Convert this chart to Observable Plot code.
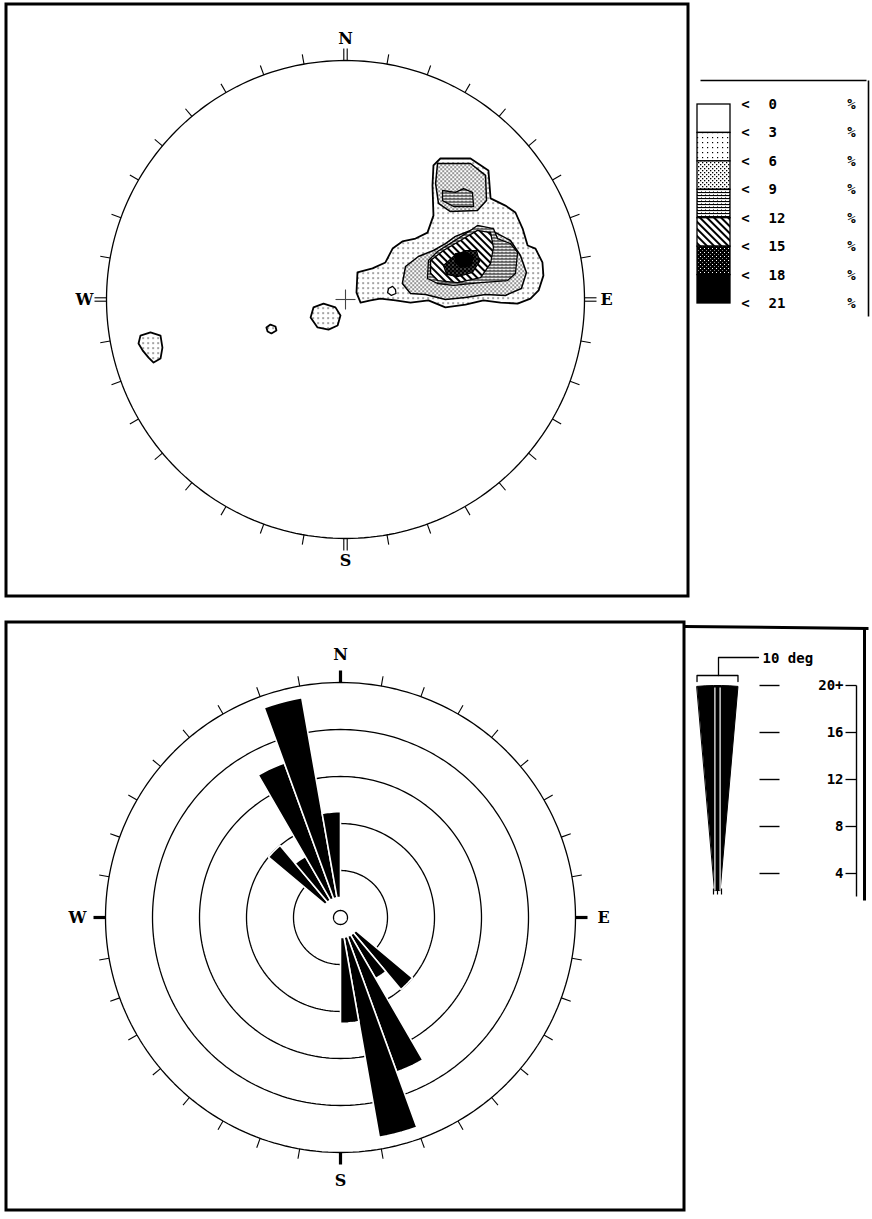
<!DOCTYPE html>
<html><head><meta charset="utf-8">
<script src="https://cdn.jsdelivr.net/npm/d3@7"></script>
<script src="https://cdn.jsdelivr.net/npm/@observablehq/plot@0.6"></script>
<style>html,body{margin:0;padding:0;background:#fff;} svg{display:block}</style>
</head><body><div id="chart"></div>
<script>
// ================= DATA =================
// Contour legend levels (%)
const contourLevels = [0, 3, 6, 9, 12, 15, 18, 21];
// Contour outlines, net coordinates (primitive circle radius = 100, x = east, y = north)
const contour3Main = [[5.0,11.3],[11.3,13.0],[16.7,15.5],[19.7,21.3],[23.8,24.3],[29.3,25.5],[34.3,28.0],[36.8,35.1],[36.4,47.7],[36.8,56.1],[39.7,59.0],[52.3,59.0],[59.8,54.0],[60.7,42.3],[66.9,39.3],[71.1,36.4],[74.1,29.7],[76.2,22.6],[79.5,21.3],[82.4,15.5],[82.8,10.0],[80.8,3.8],[77.4,0.4],[72.0,-1.7],[64.9,-1.3],[57.7,-0.4],[50.2,-2.1],[41.8,-3.3],[34.7,-0.4],[27.2,-1.3],[20.9,-0.4],[14.6,0.4],[10.5,-0.4],[6.3,-1.3],[4.6,2.9]];
const contour3West = [[-85.8,-15.1],[-81.6,-13.8],[-77.4,-15.1],[-76.6,-20.1],[-77.4,-24.7],[-80.3,-26.4],[-82.4,-24.3],[-84.9,-21.3],[-86.6,-18.4]];
const contour3Centre = [[-13.4,-3.3],[-9.2,-1.7],[-4.2,-3.3],[-2.1,-6.7],[-3.3,-10.9],[-7.1,-12.6],[-11.7,-11.7],[-14.6,-7.5]];
const contour3Small = [[-33.1,-11.7],[-31.4,-10.5],[-29.3,-11.3],[-28.9,-13.0],[-31.0,-14.2],[-32.6,-13.4]];
const contour0Hole = [[20.9,4.2],[19.7,5.5],[18.0,4.6],[17.6,2.9],[19.2,1.7],[21.1,2.5]];
const contour6Main = [[23.8,6.7],[25.1,13.8],[30.5,18.0],[36.8,20.5],[41.8,23.4],[46.0,26.4],[52.3,28.9],[56.5,30.5],[62.8,28.0],[69.0,24.7],[73.2,18.4],[75.7,11.3],[73.6,4.6],[66.9,1.7],[58.6,2.1],[50.2,0.8],[41.8,0.0],[33.5,2.1],[27.2,2.5]];
const contour6Lobe = [[38.5,56.9],[52.3,56.9],[58.6,51.9],[59.0,41.4],[55.2,37.2],[43.9,36.8],[38.9,40.2],[37.7,48.5]];
const contour9Main = [[52.3,28.9],[55.2,31.0],[61.9,29.7],[63.6,25.5],[69.0,23.4],[72.0,19.7],[71.1,10.9],[67.8,7.9],[56.5,7.1],[45.2,5.9],[38.5,6.7],[34.3,8.8],[34.7,16.3],[38.5,20.1],[45.2,24.3]];
const contour9Lobe = [[40.6,45.6],[46.0,44.8],[49.4,46.4],[53.1,44.8],[53.6,38.9],[45.2,38.9],[40.6,41.4]];
const contour12 = [[35.6,16.3],[41.0,20.5],[48.1,24.7],[55.2,28.9],[60.7,28.0],[61.9,21.8],[60.7,15.1],[56.5,9.2],[46.9,7.1],[38.5,7.9],[35.6,10.9]];
const contour15 = [[41.0,14.2],[45.2,18.0],[50.2,20.5],[54.8,20.5],[56.1,15.9],[53.1,11.3],[46.9,9.6],[42.3,10.5]];
const contour18 = [[46.0,19.2],[51.0,19.7],[53.6,17.6],[52.3,14.2],[48.1,13.4],[46.0,15.5]];

// Rose diagram: 10-degree bins (start azimuth) and counts, axial data (mirrored at +180)
const roseBins = [310, 320, 330, 340, 350];
const roseCounts = [8, 6, 14, 19, 9];
const ringCounts = [4, 8, 12, 16, 20];
const roseScaleLabels = ["4", "8", "12", "16", "20+"];
const compass = [{t: "N", az: 0}, {t: "E", az: 90}, {t: "S", az: 180}, {t: "W", az: 270}];

// ================= LAYOUT =================
const W = 872, H = 1219;
const NET = {cx: 345, cy: 299, R: 239};
const ROSE = {cx: 340, cy: 917, R: 235, max: 20};
const LEG = {cx: 717, cy: 920};           // apex of the rose legend wedge
const k = ROSE.R / ROSE.max;
const rad = d => d * Math.PI / 180;
const polar = (c, az, r) => ({x: c.cx + r * Math.sin(rad(az)), y: c.cy - r * Math.cos(rad(az))});
const netPt = ([u, v]) => ({x: NET.cx + u / 100 * NET.R, y: NET.cy - v / 100 * NET.R});
const polyRows = polys => polys.flatMap((p, i) => p.map(q => ({...netPt(q), id: i})));
const circleRows = (c, r, id) => d3.range(0, 360, 1.5).map(a => ({...polar(c, a, r), id}));

const marks = [];
const serif = {fontFamily: "DejaVu Serif", fontWeight: "bold", fontSize: 16, lineAnchor: "middle", textAnchor: "middle", fill: "black"};
const mono = {fontFamily: "DejaVu Sans Mono", fontWeight: "bold", fontSize: 14, lineAnchor: "middle", fill: "black"};

// Frames
marks.push(Plot.rect([{x1: 6, x2: 688, y1: 4, y2: 596}, {x1: 6, x2: 684, y1: 622, y2: 1210}],
  {x1: "x1", x2: "x2", y1: "y1", y2: "y2", fill: "none", stroke: "black", strokeWidth: 3}));
marks.push(Plot.link([{x1: 700, y1: 80, x2: 866, y2: 80}, {x1: 868, y1: 80, x2: 868, y2: 316}],
  {x1: "x1", y1: "y1", x2: "x2", y2: "y2", stroke: "black", strokeWidth: 1.6}));
marks.push(Plot.link([{x1: 684, y1: 626, x2: 868, y2: 628}, {x1: 864, y1: 627, x2: 864, y2: 900}],
  {x1: "x1", y1: "y1", x2: "x2", y2: "y2", stroke: "black", strokeWidth: 3}));

// ---------- Stereonet ----------
marks.push(Plot.line(circleRows(NET, NET.R, 0), {x: "x", y: "y", curve: "linear-closed", stroke: "black", strokeWidth: 1.3}));
const netTicks = [];
for (let a = 0; a < 360; a += 10) {
  if (a % 90 === 0) {
    [-1.7, 1.7].forEach(o => {
      const p1 = polar(NET, a, NET.R), p2 = polar(NET, a, NET.R + 12);
      const ox = o * Math.cos(rad(a)), oy = o * Math.sin(rad(a));
      netTicks.push({x1: p1.x + ox, y1: p1.y + oy, x2: p2.x + ox, y2: p2.y + oy});
    });
  } else {
    const p1 = polar(NET, a, NET.R), p2 = polar(NET, a, NET.R + 10);
    netTicks.push({x1: p1.x, y1: p1.y, x2: p2.x, y2: p2.y});
  }
}
marks.push(Plot.link(netTicks, {x1: "x1", y1: "y1", x2: "x2", y2: "y2", stroke: "black", strokeWidth: 1.1}));

const contourLayers = [
  {fill: "url(#p3)", polys: [contour3Main, contour3West, contour3Centre, contour3Small], sw: 1.8},
  {fill: "url(#p6)", polys: [contour6Main, contour6Lobe], sw: 1.5},
  {fill: "url(#p9)", polys: [contour9Main, contour9Lobe], sw: 1.3},
  {fill: "url(#p12)", polys: [contour12], sw: 1.3},
  {fill: "url(#p15)", polys: [contour15], sw: 1.2},
  {fill: "black", polys: [contour18], sw: 1.2},
  {fill: "white", polys: [contour0Hole], sw: 1.3}
];
contourLayers.forEach(L => marks.push(Plot.line(polyRows(L.polys),
  {x: "x", y: "y", z: "id", curve: "linear-closed", fill: L.fill, stroke: "black", strokeWidth: L.sw})));

// centre cross
marks.push(Plot.link([{x1: NET.cx - 10, y1: NET.cy, x2: NET.cx + 10, y2: NET.cy}, {x1: NET.cx, y1: NET.cy - 10, x2: NET.cx, y2: NET.cy + 10}],
  {x1: "x1", y1: "y1", x2: "x2", y2: "y2", stroke: "#444", strokeWidth: 1.1}));
marks.push(Plot.text(compass, {x: d => polar(NET, d.az, NET.R + 22).x, y: d => polar(NET, d.az, NET.R + 22).y, text: "t", ...serif}));

// contour legend
const bandH = (303 - 104) / 7;
const bandFills = ["white", "url(#p3)", "url(#p6)", "url(#p9)", "url(#p12)", "url(#p15)", "black"];
marks.push(Plot.rect(bandFills.map((f, i) => ({f, y1: 104 + i * bandH, y2: 104 + (i + 1) * bandH})),
  {x1: 697, x2: 730, y1: "y1", y2: "y2", fill: "f", stroke: "black", strokeWidth: 1.3}));
const legRows = contourLevels.map((v, i) => ({v, y: 104 + i * bandH}));
marks.push(Plot.text(legRows, {x: 745, y: "y", text: () => "<", textAnchor: "middle", ...mono}));
marks.push(Plot.text(legRows, {x: 768, y: "y", text: d => String(d.v), textAnchor: "start", ...mono}));
marks.push(Plot.text(legRows, {x: 851, y: "y", text: () => "%", textAnchor: "middle", ...mono, fontSize: 14}));

// ---------- Rose ----------
ringCounts.forEach((c, i) => marks.push(Plot.line(circleRows(ROSE, c * k, i), {x: "x", y: "y", curve: "linear-closed", stroke: "black", strokeWidth: 1.3})));
const wedgeRows = [];
roseBins.forEach((b, i) => {
  [0, 180].forEach(off => {
    const a0 = b + off, r1 = roseCounts[i] * k, r0 = 20, id = b + "-" + off;
    for (let t = 0; t <= 5; t++) wedgeRows.push({...polar(ROSE, a0 + t * 2, r1), id});
    for (let t = 5; t >= 0; t--) wedgeRows.push({...polar(ROSE, a0 + t * 2, r0), id});
  });
});
marks.push(Plot.line(wedgeRows, {x: "x", y: "y", z: "id", curve: "linear-closed", fill: "black", stroke: "white", strokeWidth: 1.6}));
marks.push(Plot.line(circleRows(ROSE, 7, 99), {x: "x", y: "y", curve: "linear-closed", fill: "white", stroke: "black", strokeWidth: 1.3}));
const roseTicks = [];
for (let a = 0; a < 360; a += 10) {
  const card = a % 90 === 0;
  const p1 = polar(ROSE, a, ROSE.R), p2 = polar(ROSE, a, ROSE.R + (card ? 12 : 10));
  roseTicks.push({x1: p1.x, y1: p1.y, x2: p2.x, y2: p2.y, w: card ? 3.2 : 1.1});
}
marks.push(Plot.link(roseTicks.filter(d => d.w < 2), {x1: "x1", y1: "y1", x2: "x2", y2: "y2", stroke: "black", strokeWidth: 1.1}));
marks.push(Plot.link(roseTicks.filter(d => d.w > 2), {x1: "x1", y1: "y1", x2: "x2", y2: "y2", stroke: "black", strokeWidth: 3.2}));
marks.push(Plot.text(compass, {x: d => polar(ROSE, d.az, ROSE.R + 28).x, y: d => polar(ROSE, d.az, ROSE.R + 28).y, text: "t", ...serif}));

// rose legend: one 10-degree bin at full scale
const legWedge = [];
for (let t = 0; t <= 5; t++) legWedge.push(polar(LEG, -5 + t * 2, ROSE.max * k));
for (let t = 5; t >= 0; t--) legWedge.push(polar(LEG, -5 + t * 2, 30));
marks.push(Plot.line(legWedge, {x: "x", y: "y", curve: "linear-closed", fill: "black", stroke: "black", strokeWidth: 1}));
const topY = polar(LEG, 0, ROSE.max * k).y;
marks.push(Plot.link([-2.6, 2.6].map(o => ({x: LEG.cx + o, y1: topY + 2, y2: LEG.cy - 30})),
  {x1: "x", x2: "x", y1: "y1", y2: "y2", stroke: "white", strokeWidth: 1.2}));
marks.push(Plot.link([-4, 0, 4].map(o => ({x: LEG.cx + o, y1: LEG.cy - 32, y2: LEG.cy - 26})),
  {x1: "x", x2: "x", y1: "y1", y2: "y2", stroke: "black", strokeWidth: 1.2}));
// bracket "10 deg"
const bx0 = polar(LEG, -5, ROSE.max * k).x, bx1 = polar(LEG, 5, ROSE.max * k).x, by = topY - 10;
marks.push(Plot.line([{x: bx0, y: by + 6}, {x: bx0, y: by}, {x: bx1, y: by}, {x: bx1, y: by + 6}], {x: "x", y: "y", stroke: "black", strokeWidth: 1.3}));
marks.push(Plot.line([{x: LEG.cx + 1, y: by}, {x: LEG.cx + 1, y: by - 18}, {x: LEG.cx + 41, y: by - 18}], {x: "x", y: "y", stroke: "black", strokeWidth: 1.3}));
marks.push(Plot.text(["10 deg"], {x: LEG.cx + 45, y: by - 17, text: d => d, textAnchor: "start", ...mono}));
const scaleRows = ringCounts.map((c, i) => ({c, lab: roseScaleLabels[i], y: LEG.cy - c * k}));
marks.push(Plot.link(scaleRows, {x1: 759, x2: 779, y1: "y", y2: "y", stroke: "black", strokeWidth: 1.4}));
marks.push(Plot.text(scaleRows, {x: 843, y: "y", text: "lab", textAnchor: "end", ...mono}));
marks.push(Plot.link(scaleRows, {x1: 845, x2: 856, y1: "y", y2: "y", stroke: "black", strokeWidth: 1.3}));
marks.push(Plot.link([{y1: LEG.cy - ROSE.max * k, y2: 896}], {x1: 856, x2: 856, y1: "y1", y2: "y2", stroke: "black", strokeWidth: 1.4}));

const svg = Plot.plot({
  width: W, height: H, margin: 0,
  x: {domain: [0, W], range: [0, W], axis: null},
  y: {domain: [0, H], range: [0, H], axis: null},
  color: {type: "identity"},
  style: {background: "white", overflow: "visible"},
  marks
});

// fill patterns for the contour bands
const defs = d3.select(svg).insert("defs", ":first-child");
function pat(id, w, h, bg, rects, transform) {
  const p = defs.append("pattern").attr("id", id).attr("patternUnits", "userSpaceOnUse").attr("width", w).attr("height", h);
  if (transform) p.attr("patternTransform", transform);
  p.append("rect").attr("width", w).attr("height", h).attr("fill", bg);
  rects.forEach(([x, y, rw, rh, c]) => p.append("rect").attr("x", x).attr("y", y).attr("width", rw).attr("height", rh).attr("fill", c || "black"));
}
pat("p3", 5, 5, "white", [[2, 2, 1.2, 1.2]]);
pat("p6", 4, 4, "white", [[0, 0, 1.3, 1.3], [2, 2, 1.3, 1.3]]);
pat("p9", 4, 3, "white", [[0, 0, 4, 1.1], [1, 2, 1, 0.8, "#555"]]);
pat("p12", 5, 5, "white", [[0, 0, 2, 5]], "rotate(-45)");
pat("p15", 4, 4, "black", [[0, 0, 1, 1, "white"], [2, 2, 1, 1, "#888"]]);

document.getElementById("chart").appendChild(svg);
</script>
</body></html>
